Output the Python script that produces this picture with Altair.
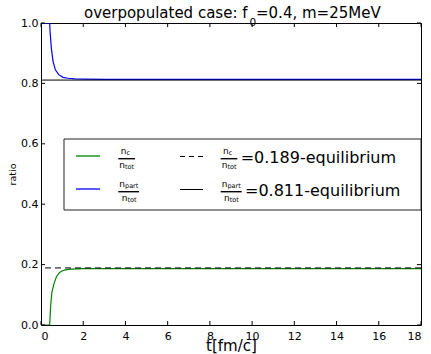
import altair as alt
import pandas as pd

# ---- data -------------------------------------------------------------
t_c = [0.0, 0.38, 0.41, 0.46, 0.52, 0.62, 0.73, 0.88, 1.0, 1.12, 1.3, 1.44,
       1.7, 2.0, 3.0, 5.0, 8.0, 12.0, 18.0]
n_c = [0.0, 0.0, 0.0, 0.066, 0.11, 0.138, 0.16, 0.174, 0.179, 0.182, 0.184,
       0.185, 0.186, 0.187, 0.187, 0.187, 0.187, 0.187, 0.187]

t_part = [0.0, 0.38, 0.41, 0.43, 0.49, 0.57, 0.68, 0.84, 1.04, 1.28, 1.6,
          2.0, 3.0, 5.0, 8.0, 12.0, 18.0]
n_part = [1.0, 1.0, 1.0, 0.972, 0.917, 0.873, 0.845, 0.829, 0.820, 0.817,
          0.815, 0.814, 0.813, 0.813, 0.813, 0.813, 0.813]

eq_c = [0.189]
eq_part = [0.811]

x_ticks = [0, 2, 4, 6, 8, 10, 12, 14, 16, 18]
y_ticks = [0.0, 0.2, 0.4, 0.6, 0.8, 1.0]

# ---- layout -----------------------------------------------------------
W, H = 380, 302
FONT = "DejaVu Sans"
GREEN = "#008000"
BLUE = "#0000ff"
TICK = 4

curves = pd.concat([
    pd.DataFrame({"t": t_c, "v": n_c, "s": "c"}),
    pd.DataFrame({"t": t_part, "v": n_part, "s": "part"}),
])

xs = alt.Scale(domain=[0, 18], nice=False, zero=False)
ys = alt.Scale(domain=[0, 1], nice=False)

# identical axis definitions are shared by every layer so they merge cleanly
x_axis = alt.Axis(values=x_ticks, title="t[fm/c]", titleFontSize=15,
                  titleFont=FONT, titleFontWeight="normal",
                  titleBaseline="alphabetic", titleY=25,
                  labelFontSize=11, labelFont=FONT, labelPadding=5,
                  ticks=False, domain=False, grid=False,
                  labelColor="black", titleColor="black")
y_axis = alt.Axis(values=y_ticks, format=".1f", title="ratio",
                  titleFontSize=9.5, titleFont=FONT,
                  titleFontWeight="normal", titleX=-29, titleY=151,
                  titleBaseline="middle", titleAlign="center",
                  labelFontSize=11, labelFont=FONT, labelPadding=3,
                  ticks=False, domain=False, grid=False,
                  labelColor="black", titleColor="black")


def X(field="t"):
    return alt.X(f"{field}:Q", scale=xs, axis=x_axis)


def Y(field="v"):
    return alt.Y(f"{field}:Q", scale=ys, axis=y_axis)


lines = alt.Chart(curves).mark_line(strokeWidth=1.2, clip=True).encode(
    x=X(), y=Y(),
    color=alt.Color("s:N", scale=alt.Scale(domain=["c", "part"],
                                           range=[GREEN, BLUE]), legend=None),
    order="t:Q",
)

eq_line_c = alt.Chart(pd.DataFrame({"v": eq_c})).mark_rule(
    color="black", strokeWidth=1, strokeDash=[6, 4]).encode(y=Y())
eq_line_part = alt.Chart(pd.DataFrame({"v": eq_part})).mark_rule(
    color="black", strokeWidth=1).encode(y=Y())

# inward ticks on all four sides
xt = pd.DataFrame({"t": x_ticks})
yt = pd.DataFrame({"v": y_ticks})
tick_style = dict(color="black", strokeWidth=1)
ticks = [
    alt.Chart(xt).mark_rule(**tick_style).encode(
        x=X(), y=alt.value(H), y2=alt.value(H - TICK)),
    alt.Chart(xt).mark_rule(**tick_style).encode(
        x=X(), y=alt.value(0), y2=alt.value(TICK)),
    alt.Chart(yt).mark_rule(**tick_style).encode(
        y=Y(), x=alt.value(0), x2=alt.value(TICK)),
    alt.Chart(yt).mark_rule(**tick_style).encode(
        y=Y(), x=alt.value(W - TICK), x2=alt.value(W)),
]

# ---- legend box with fraction labels, and the title ---------------------
one = alt.Data(values=[{"k": 1}])


def txt(x, y, s, size, align="left"):
    return alt.Chart(one).mark_text(
        text=s, fontSize=size, font=FONT, align=align,
        baseline="alphabetic", color="black").encode(
        x=alt.value(x), y=alt.value(y))


def seg(x0, x1, y, color="black", width=1.0, dash=None):
    kw = dict(color=color, strokeWidth=width)
    if dash:
        kw["strokeDash"] = dash
    return alt.Chart(one).mark_rule(**kw).encode(
        x=alt.value(x0), x2=alt.value(x1), y=alt.value(y))


def frac(x0, w, by, num_sub, num_dx, den_dx):
    sub_w = 5.7
    return [
        seg(x0, x0 + w, by, width=1.4),
        txt(x0 + num_dx, by - 5, "n", 9),
        txt(x0 + num_dx + sub_w, by - 3.6, num_sub, 6.5),
        txt(x0 + den_dx, by + 9, "n", 9),
        txt(x0 + den_dx + sub_w, by + 10.4, "tot", 6.5),
    ]


box = alt.Chart(one).mark_rect(
    fill="white", stroke="#222222", strokeWidth=1).encode(
    x=alt.value(23), x2=alt.value(380), y=alt.value(116), y2=alt.value(187))

legend = [box,
          seg(35, 59, 133, color=GREEN, width=1.3),
          seg(35, 59, 166, color=BLUE, width=1.3),
          seg(139, 162, 133.5, dash=[5, 4]),
          seg(139, 162, 166.5)]
legend += frac(77.3, 16.7, 135.7, "c", 2.4, 1.0)
legend += frac(77.3, 20.7, 168.7, "part", 1.0, 3.4)
legend += frac(179.7, 16.6, 135.7, "c", 2.4, 1.0)
legend += frac(179.7, 21.0, 168.7, "part", 1.0, 3.4)
legend += [txt(199.7, 139.7, "=0.189-equilibrium", 16),
           txt(204.0, 173.0, "=0.811-equilibrium", 16)]

# title with a true subscript on f
title = [txt(206.5, -5.5, "overpopulated case: f", 15, align="right"),
         txt(208.5, 3.0, "0", 10.5),
         txt(215.0, -5.5, "=0.4, m=25MeV", 15)]

chart = alt.layer(lines, eq_line_c, eq_line_part, *ticks, *legend,
                  *title).properties(
    width=W, height=H,
    autosize=alt.AutoSizeParams(type="none"),
    padding={"left": 41, "top": 23, "right": 10, "bottom": 29},
    background="white",
).configure_view(stroke="black", strokeWidth=1)

chart.save("out.html", embed_options={"renderer": "svg", "actions": False})
